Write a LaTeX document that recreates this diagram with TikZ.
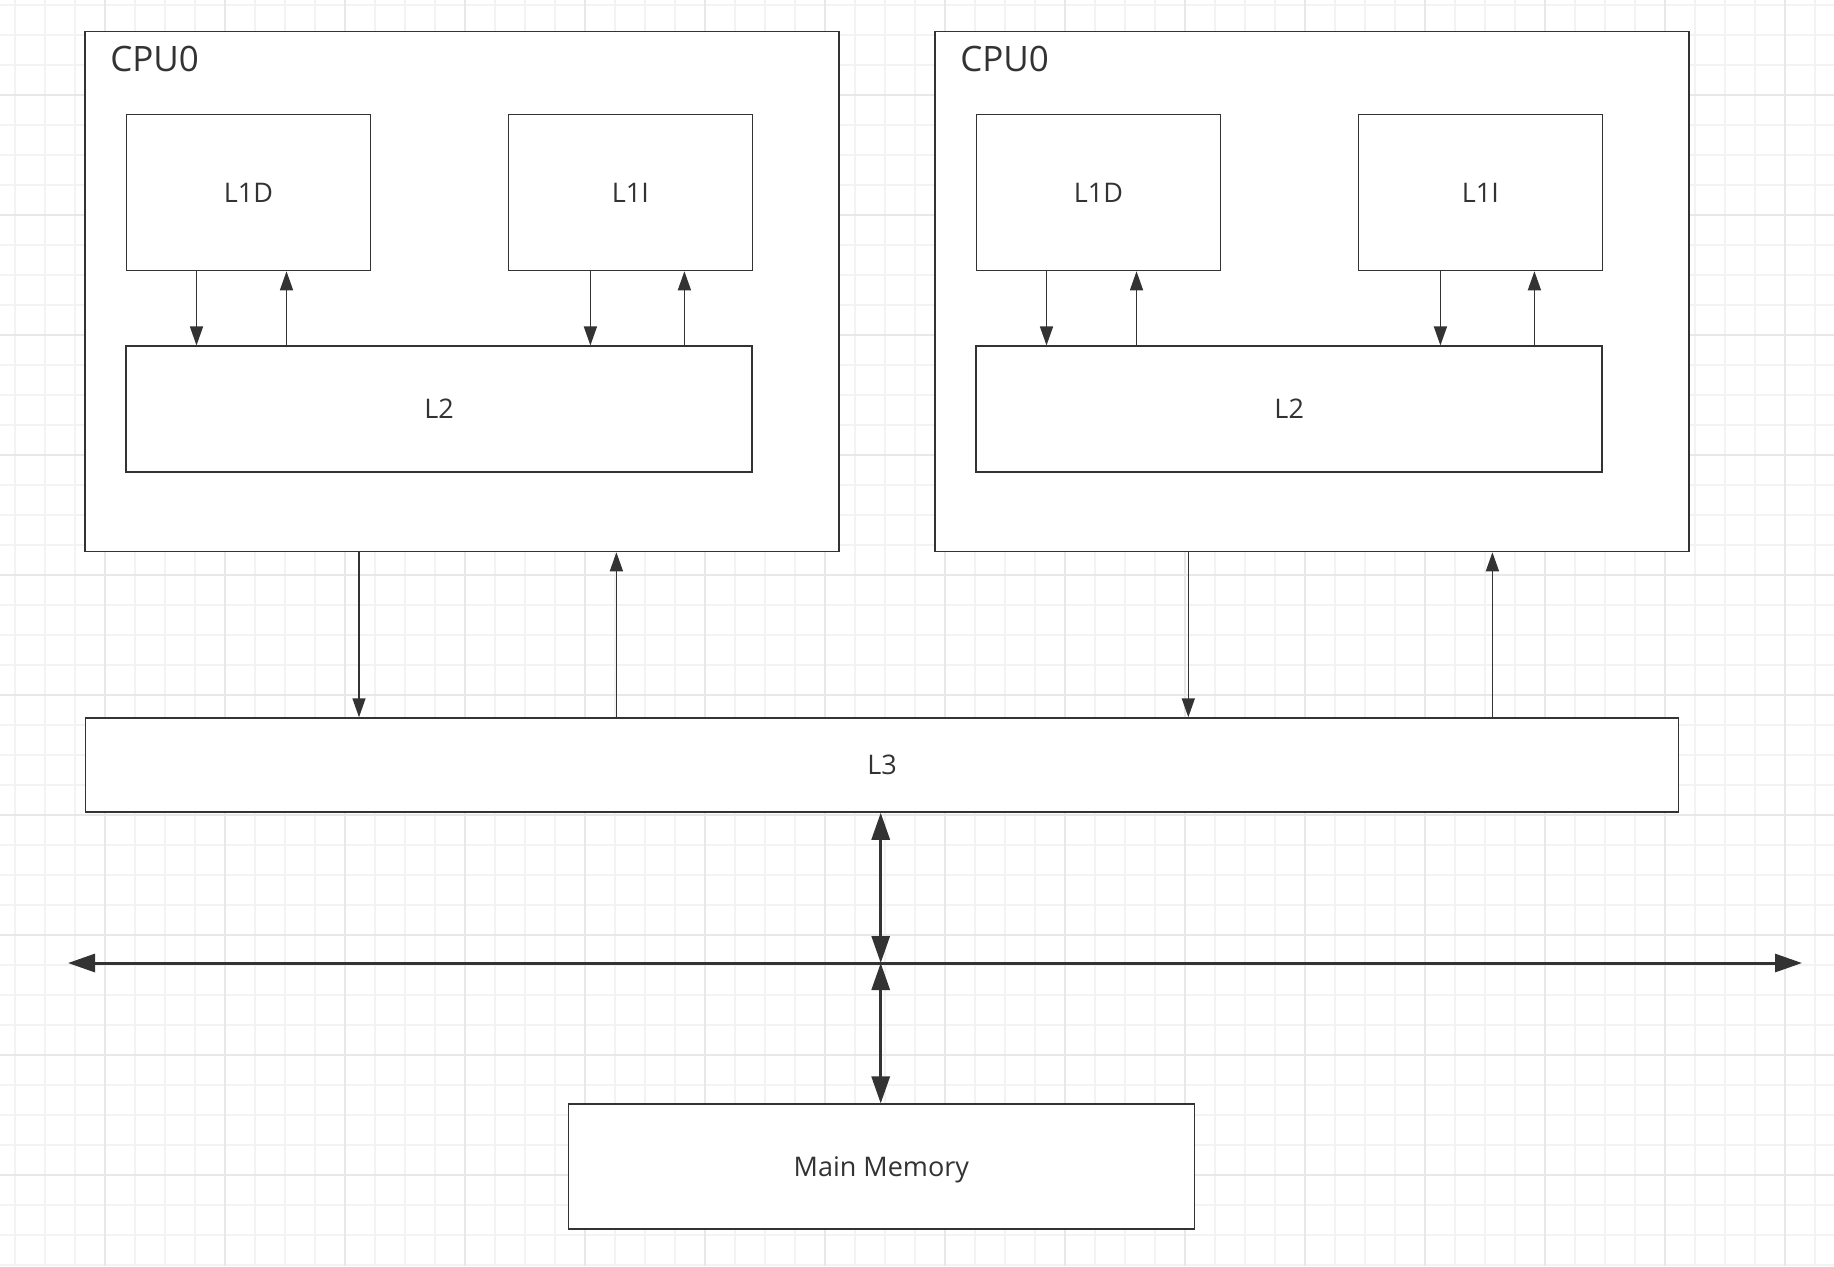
\documentclass[tikz,border=0pt]{standalone}
\usepackage{fontspec}
\setmainfont{Open Sans}
\usetikzlibrary{arrows.meta}
\definecolor{linec}{HTML}{333333}
\definecolor{gridminor}{HTML}{F3F3F3}
\definecolor{gridmajor}{HTML}{E8E8E8}

\begin{document}
\begin{tikzpicture}[x=0.5pt,y=-0.5pt,
	sz/.style 2 args={minimum width=#1*0.5pt,minimum height=#2*0.5pt},
	box/.style={draw=linec,fill=white,line width=0.75pt,inner sep=0pt,text=linec,
		font=\fontsize{13.5}{16}\selectfont,text height=9.6pt,text depth=0pt},
	link/.style={draw=linec,line width=0.75pt,-{Triangle[length=9.5pt,width=6.5pt]}},
	buslink/.style={draw=linec,line width=1.5pt,{Triangle[length=13.5pt,width=9pt]}-{Triangle[length=13.5pt,width=9pt]}}]
	\useasboundingbox (0,0) rectangle (1834,1266);
	% background grid
	\foreach \gx in {15,45,...,1834} {\draw[gridminor,line width=0.9pt] (\gx,0) -- (\gx,1266);}
	\foreach \gy in {5,35,...,1266} {\draw[gridminor,line width=0.9pt] (0,\gy) -- (1834,\gy);}
	\foreach \gx in {105,225,...,1834} {\draw[gridmajor,line width=0.9pt] (\gx,0) -- (\gx,1266);}
	\foreach \gy in {95,215,...,1266} {\draw[gridmajor,line width=0.9pt] (0,\gy) -- (1834,\gy);}
	% the two cores
	\foreach \c/\dx in {A/0,B/850}
	{
		\node[box,sz={754}{520}] (cpu\c) at (462+\dx,291.5) {};
		\node[anchor=base west,text=linec,font=\fontsize{17.5}{21}\selectfont] (cpu\c lbl) at ([shift={(19,40.5)}]cpu\c.north west) {CPU0};
		\node[box,sz={244}{156}] (l1d\c) at (248.5+\dx,192.5) {L1D};
		\node[box,sz={244}{156}] (l1i\c) at (630.4+\dx,192.5) {L1I};
		\node[box,sz={626}{126}] (l2\c) at (439.2+\dx,409.2) {L2};
		\draw[link] ([shift={(-52,0)}]l1d\c.south) -- ([shift={(-52,0)}]l1d\c.south |- l2\c.north);
		\draw[link] ([shift={(38,0)}]l1d\c.south |- l2\c.north) -- ([shift={(38,0)}]l1d\c.south);
		\draw[link] ([shift={(-40,0)}]l1i\c.south) -- ([shift={(-40,0)}]l1i\c.south |- l2\c.north);
		\draw[link] ([shift={(54,0)}]l1i\c.south |- l2\c.north) -- ([shift={(54,0)}]l1i\c.south);
	}
	\node[box,sz={1593}{94}] (l3) at (882,765) {L3};
	\node[box,sz={626}{125}] (mem) at (881.3,1166.7) {Main Memory};
	% core to L3
	\draw[link] ([shift={(-103,0)}]cpuA.south) -- ([shift={(-103,0)}]cpuA.south |- l3.north);
	\draw[link] ([shift={(154.4,0)}]cpuA.south |- l3.north) -- ([shift={(154.4,0)}]cpuA.south);
	\draw[link] ([shift={(-123.7,0)}]cpuB.south) -- ([shift={(-123.7,0)}]cpuB.south |- l3.north);
	\draw[link] ([shift={(180.4,0)}]cpuB.south |- l3.north) -- ([shift={(180.4,0)}]cpuB.south);
	% system bus
	\coordinate (busW) at (68,963);
	\coordinate (busE) at (1802,963);
	\coordinate (busC) at (880.7,963);
	\draw[buslink] (busW) -- (busE);
	\draw[buslink] (busC |- l3.south) -- (busC);
	\draw[buslink] (busC) -- (busC |- mem.north);
\end{tikzpicture}
\end{document}
